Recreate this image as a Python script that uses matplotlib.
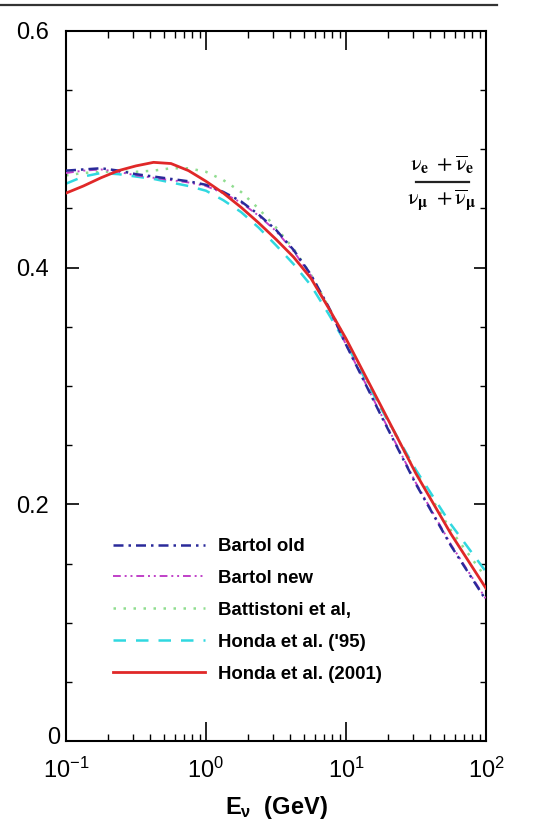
import matplotlib
matplotlib.use("Agg")
import matplotlib.pyplot as plt
from matplotlib.lines import Line2D
from matplotlib.ticker import FixedLocator, LogLocator, NullFormatter
import matplotlib.transforms as mtransforms

plt.rcParams['font.family'] = ['Liberation Sans', 'DejaVu Sans']
plt.rcParams['mathtext.fontset'] = 'custom'
plt.rcParams['mathtext.rm'] = 'Liberation Sans'
plt.rcParams['mathtext.it'] = 'Liberation Sans:italic'
plt.rcParams['mathtext.bf'] = 'Liberation Sans:bold'

# ---- data (E in GeV, ratio (nu_e+nubar_e)/(nu_mu+nubar_mu)) ----
E_gev = [0.1, 0.133, 0.178, 0.237, 0.316, 0.422, 0.562, 0.750, 1.0, 1.33, 1.78, 2.37, 3.16,
         4.22, 5.62, 7.50, 10.0, 17.8, 31.6, 56.2, 100.0]
honda2001 = [0.463, 0.469, 0.476, 0.482, 0.486, 0.489, 0.488, 0.482, 0.473, 0.463, 0.451, 0.438, 0.424,
             0.409, 0.391, 0.366, 0.340, 0.283, 0.226, 0.175, 0.129]
bartol_old = [0.482, 0.483, 0.484, 0.482, 0.479, 0.477, 0.475, 0.473, 0.470, 0.464, 0.456, 0.445, 0.432,
              0.415, 0.394, 0.367, 0.335, 0.275, 0.217, 0.165, 0.119]
bartol_new = [0.480, 0.482, 0.483, 0.481, 0.478, 0.476, 0.474, 0.472, 0.469, 0.463, 0.455, 0.444, 0.431,
              0.414, 0.393, 0.366, 0.335, 0.276, 0.218, 0.166, 0.120]
battistoni = [0.478, 0.480, 0.481, 0.481, 0.481, 0.482, 0.484, 0.484, 0.481, 0.474, 0.464, 0.450, 0.434,
              0.416, 0.394, 0.367, 0.339, 0.281, 0.227, 0.178, 0.138]
honda95 = [0.471, 0.477, 0.480, 0.479, 0.477, 0.475, 0.472, 0.469, 0.465, 0.457, 0.447, 0.434, 0.419,
           0.403, 0.385, 0.361, 0.336, 0.281, 0.229, 0.183, 0.143]

labels = ["Bartol old", "Bartol new", "Battistoni et al,", "Honda et al. ('95)", "Honda et al. (2001)"]
colors = ["#2a2a9a", "#c040c8", "#90dd90", "#30d8e0", "#e02828"]

W, H = 552, 824
fig = plt.figure(figsize=(W / 100, H / 100), dpi=100)
L, R, T, B = 66, 486, 31, 741
ax = fig.add_axes([L / W, 1 - B / H, (R - L) / W, (B - T) / H])

ax.plot(E_gev, bartol_new, color=colors[1], lw=1.4, ls=(0, (4, 2, 1, 2, 1, 2)), label=labels[1], zorder=3)
ax.plot(E_gev, battistoni, color=colors[2], lw=1.8, ls=(0, (1, 3)), label=labels[2], zorder=2)
ax.plot(E_gev, honda95, color=colors[3], lw=1.8, ls=(0, (5, 4)), label=labels[3], zorder=2)
ax.plot(E_gev, bartol_old, color=colors[0], lw=1.8, ls=(0, (4, 2, 1, 2)), label=labels[0], zorder=4)
ax.plot(E_gev, honda2001, color=colors[4], lw=2.0, ls='-', label=labels[4], zorder=5)

ax.set_xscale('log')
ax.set_xlim(0.1, 100)
ax.set_ylim(0, 0.6)
ax.yaxis.set_major_locator(FixedLocator([0, 0.2, 0.4, 0.6]))
ax.yaxis.set_minor_locator(FixedLocator([0.05, 0.1, 0.15, 0.25, 0.3, 0.35, 0.45, 0.5, 0.55]))
ax.set_yticklabels(["0", "0.2", "0.4", "0.6"])
ax.xaxis.set_major_locator(FixedLocator([0.1, 1, 10, 100]))
ax.xaxis.set_minor_locator(LogLocator(base=10, subs=range(2, 10)))
ax.xaxis.set_minor_formatter(NullFormatter())
ax.set_xticklabels([r"$\mathregular{10^{-1}}$", r"$\mathregular{10^{0}}$", r"$\mathregular{10^{1}}$", r"$\mathregular{10^{2}}$"])

ax.tick_params(which='both', direction='in', top=True, right=True)
ax.tick_params(axis='x', which='major', length=14, width=1.2, labelsize=17, pad=12)
ax.tick_params(axis='x', which='minor', length=5, width=1.0)
ax.tick_params(axis='y', which='major', length=9, width=1.2, labelsize=17, pad=12)
ax.tick_params(axis='y', which='minor', length=4, width=1.0)
for s in ax.spines.values():
    s.set_linewidth(1.5)

# shift the "0" y label closer to the axis as in the reference
ylabs = ax.get_yticklabels()
ylabs[0].set_transform(ylabs[0].get_transform() + mtransforms.ScaledTranslation(8 / 72, 4 / 72, fig.dpi_scale_trans))

ax.set_xlabel(r"E$_\mathbf{\nu}$  (GeV)", fontsize=17, fontweight='bold', labelpad=8)

# fraction label
fx = 442 / W
fig.text(fx, 1 - 165 / H, r"$\mathrm{ν}_\mathbf{e}\ +\overline{\mathrm{ν}}_\mathbf{e}$",
         fontsize=16, ha='center', va='center', math_fontfamily='stix')
fig.add_artist(Line2D([416 / W, 469 / W], [1 - 182 / H, 1 - 182 / H], color='#222222', lw=1.6,
                      transform=fig.transFigure))
fig.text(fx, 1 - 199 / H, r"$\mathrm{ν}_\mathbf{μ}\ +\overline{\mathrm{ν}}_\mathbf{μ}$",
         fontsize=16, ha='center', va='center', math_fontfamily='stix')

# legend
handles, labs = ax.get_legend_handles_labels()
order = [labs.index(l) for l in labels]
leg = ax.legend([handles[i] for i in order], [labs[i] for i in order],
                loc='upper left', bbox_to_anchor=(113 / W, 1 - 538 / H),
                bbox_transform=fig.transFigure, frameon=False,
                prop={'weight': 'bold', 'size': 13.4}, handlelength=4.95,
                handletextpad=0.7, labelspacing=0.8, borderpad=0, borderaxespad=0)

# top rule line
fig.add_artist(Line2D([0, 497 / W], [1 - 5 / H, 1 - 5 / H], color='#333333', lw=1.6, transform=fig.transFigure))

fig.savefig("out.png", dpi=100)
